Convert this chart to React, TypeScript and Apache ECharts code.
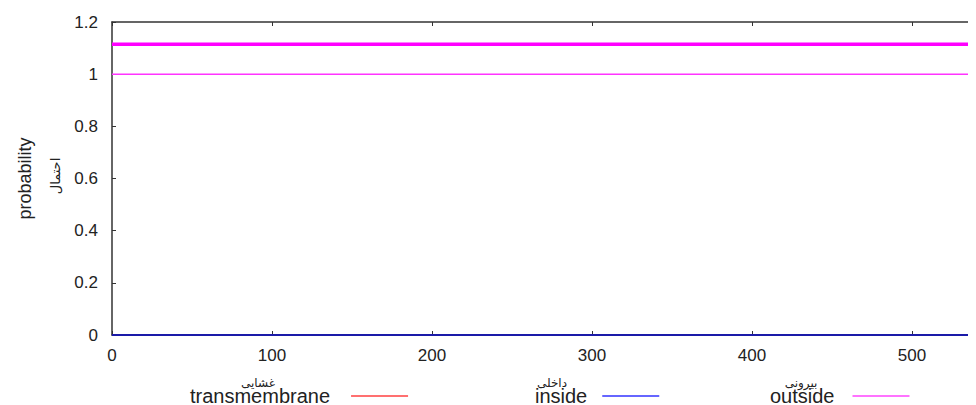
import React, { useEffect, useRef } from "react";
import * as echarts from "echarts";

const residues = [0, 600];
const transmembrane = [0, 0];
const inside = [0, 0];
const outside = [1, 1];
const outsideRegion = [1.115, 1.115];
const legendNames = ["transmembrane", "inside", "outside"];
const legendArabic = ["غشایی", "داخلی", "بیرونی"];
const yTitle = "probability";
const yTitleArabic = "احتمال";

const pairs = (vals: number[]) => residues.map((r, i) => [r, vals[i]]);

export default function App() {
  const ref = useRef<HTMLDivElement>(null);
  useEffect(() => {
    const chart = echarts.init(ref.current!, undefined, { renderer: "svg" });
    const font = "Liberation Sans, Arial, sans-serif";
    const axisColor = "#333";
    const textColor = "#222";
    chart.setOption({
      animation: false,
      grid: { left: 98, top: 14, right: 0, bottom: 70 },
      xAxis: [
        {
          type: "value",
          min: 0,
          max: 540,
          interval: 100,
          axisLine: { lineStyle: { color: axisColor, width: 1.5 } },
          axisTick: { inside: true, length: 4, lineStyle: { color: axisColor } },
          axisLabel: { color: textColor, fontSize: 17, fontFamily: font, margin: 12, showMaxLabel: false },
          splitLine: { show: false },
        },
        {
          type: "value",
          position: "top",
          min: 0,
          max: 540,
          interval: 100,
          axisLine: { lineStyle: { color: axisColor, width: 1.5 } },
          axisTick: { inside: true, length: 4, lineStyle: { color: axisColor } },
          axisLabel: { show: false },
          splitLine: { show: false },
        },
      ],
      yAxis: {
        type: "value",
        min: 0,
        max: 1.2,
        interval: 0.2,
        name: yTitle,
        nameLocation: "middle",
        nameGap: 78,
        nameTextStyle: { color: textColor, fontSize: 18, fontFamily: font },
        axisLine: { show: true, lineStyle: { color: axisColor, width: 1.5 } },
        axisTick: { show: true, inside: true, length: 4, lineStyle: { color: axisColor } },
        axisLabel: {
          color: textColor,
          fontSize: 17,
          fontFamily: font,
          margin: 14,
          formatter: (v: number) => String(Math.round(v * 10) / 10),
        },
        splitLine: { show: false },
      },
      legend: legendNames.map((n, i) => ({
        data: [n],
        left: [182, 527, 762][i],
        top: 378,
        padding: 0,
        align: "right",
        icon: "rect",
        itemWidth: 57,
        itemHeight: 1.5,
        textStyle: {
          fontSize: 20,
          color: textColor,
          fontFamily: font,
          padding: [0, [16, 10, 13][i], 0, 0],
        },
        selectedMode: false,
      })),
      series: [
        {
          name: "transmembrane",
          type: "line",
          data: pairs(transmembrane),
          symbol: "none",
          lineStyle: { color: "#ff2020", width: 2 },
          itemStyle: { color: "#ff4040" },
        },
        {
          name: "inside",
          type: "line",
          data: pairs(inside),
          symbol: "none",
          lineStyle: { color: "#1a1aa8", width: 2 },
          itemStyle: { color: "#3333ff" },
          z: 3,
        },
        {
          name: "outside",
          type: "line",
          data: pairs(outside),
          symbol: "none",
          lineStyle: { color: "#ff33ff", width: 1.5 },
          itemStyle: { color: "#ff44ff" },
        },
        {
          name: "outsideRegion",
          type: "line",
          data: pairs(outsideRegion),
          symbol: "none",
          lineStyle: { color: "#ff00ff", width: 3.5 },
        },
      ],
      graphic: [
        {
          type: "text",
          x: 47,
          y: 168,
          rotation: Math.PI / 2,
          style: {
            text: yTitleArabic,
            fontSize: 13,
            fontFamily: "DejaVu Sans",
            fill: textColor,
            align: "center",
            verticalAlign: "middle",
          },
        },
        ...legendArabic.map((t, i) => ({
          type: "text",
          x: [250, 544, 793][i],
          y: 375,
          style: {
            text: t,
            fontSize: 12,
            fontFamily: "DejaVu Sans",
            fill: textColor,
            align: "center",
            verticalAlign: "middle",
          },
        })),
      ],
    });
    return () => chart.dispose();
  }, []);
  return <div ref={ref} style={{ width: 968, height: 397 }} />;
}
